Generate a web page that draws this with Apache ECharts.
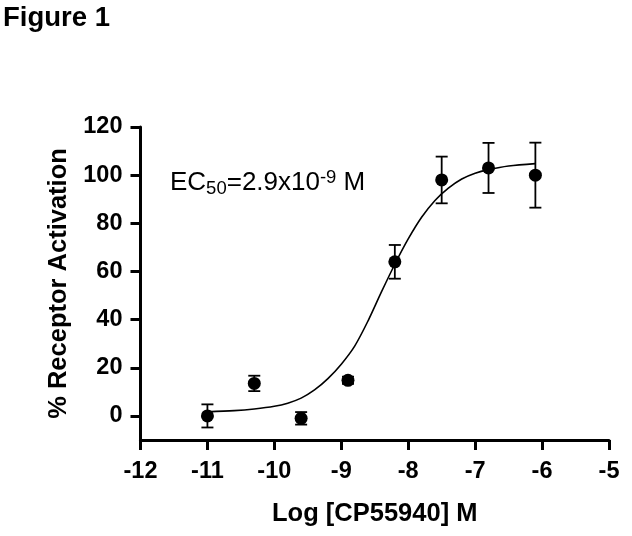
<!DOCTYPE html>
<html lang="en">
<head>
    <meta charset="UTF-8">
    <title>Figure 1</title>
    <script src="https://cdn.jsdelivr.net/npm/echarts@6/dist/echarts.min.js"></script>
    <style>
        html, body { margin: 0; padding: 0; background: #fff; }
    </style>
</head>
<body>
<div id="main" style="width: 632px;height:536px;"></div>
<script type="text/javascript">
    // measured points: log concentration, mean, SEM
    var logConc = [-11, -10.3, -9.6, -8.9, -8.2, -7.5, -6.8, -6.1];
    var activation = [0, 13.5, -1.0, 14.8, 64, 98, 103, 100];
    var sem = [4.8, 3.2, 2.6, 1.5, 7, 9.7, 10.4, 13.5];

    // fitted curve
    var curveX = [-11, -10.6, -10.3, -10, -9.8, -9.6, -9.4, -9.2, -9.0, -8.8, -8.6, -8.4, -8.2, -8.0, -7.8, -7.6, -7.4, -7.2, -7.0, -6.8, -6.5, -6.1];
    var curveY = [1.7, 2.2, 2.9, 4.0, 5.3, 7.4, 10.8, 15.5, 21.5, 29, 39.5, 51.5, 63, 73.5, 82.5, 89.5, 94.6, 98.4, 100.8, 102.3, 103.8, 104.8];

    var xTicks = [-12, -11, -10, -9, -8, -7, -6, -5];
    var yTicks = [0, 20, 40, 60, 80, 100, 120];

    var font = 'Liberation Sans, Arial, sans-serif';
    var myChart = echarts.init(document.getElementById('main'));

    var pointData = logConc.map(function (x, i) { return [x, activation[i]]; });
    var errData = logConc.map(function (x, i) { return [x, activation[i], sem[i]]; });
    var curveData = curveX.map(function (x, i) { return [x, curveY[i]]; });

    var axisCommon = {
        splitLine: { show: false },
        axisLine: { show: true, onZero: false, lineStyle: { color: '#000', width: 3 } },
        axisTick: { show: true, length: 10, lineStyle: { color: '#000', width: 3 } },
        axisLabel: { color: '#000', fontWeight: 'bold', fontSize: 23.5, fontFamily: font },
        nameTextStyle: { color: '#000', fontWeight: 'bold', fontSize: 25.5, fontFamily: font }
    };

    myChart.setOption({
        backgroundColor: '#fff',
        animation: false,
        title: {
            text: 'Figure 1',
            left: -2,
            top: -1,
            textStyle: { color: '#000', fontWeight: 'bold', fontSize: 27.5, fontFamily: font }
        },
        grid: { left: 140.5, right: 23, top: 127, bottom: 96 },
        xAxis: echarts.util.merge({
            type: 'value',
            min: -12,
            max: -5,
            interval: 1,
            name: 'Log [CP55940] M',
            nameLocation: 'middle',
            nameGap: 61,
            axisTick: { customValues: xTicks },
            axisLabel: { customValues: xTicks, margin: 20 }
        }, axisCommon),
        yAxis: echarts.util.merge({
            type: 'value',
            min: -10,
            max: 120,
            name: '% Receptor Activation',
            nameLocation: 'middle',
            nameGap: 66,
            axisTick: { customValues: yTicks },
            axisLabel: { customValues: yTicks, margin: 18 }
        }, axisCommon),
        graphic: [{
            type: 'text',
            left: 170,
            top: 168,
            style: {
                text: '{a|EC}{b|50}{a|=2.9x10}{c|-9}{a| M}',
                fill: '#000',
                rich: {
                    a: { fontSize: 26, fontFamily: font, lineHeight: 30, verticalAlign: 'middle' },
                    b: { fontSize: 18.5, fontFamily: font, lineHeight: 18, verticalAlign: 'bottom' },
                    c: { fontSize: 18.5, fontFamily: font, lineHeight: 16, verticalAlign: 'top' }
                }
            }
        }],
        series: [
            {
                name: 'fit',
                type: 'line',
                data: curveData,
                smooth: 0.3,
                showSymbol: false,
                lineStyle: { color: '#000', width: 1.6 },
                z: 2
            },
            {
                name: 'error',
                type: 'custom',
                data: errData,
                renderItem: function (params, api) {
                    var x = api.value(0), m = api.value(1), e = api.value(2);
                    var top = api.coord([x, m + e]);
                    var bot = api.coord([x, m - e]);
                    var hw = 6;
                    var st = { stroke: '#000', lineWidth: 1.8 };
                    return {
                        type: 'group',
                        children: [
                            { type: 'line', shape: { x1: top[0], y1: top[1], x2: bot[0], y2: bot[1] }, style: st },
                            { type: 'line', shape: { x1: top[0] - hw, y1: top[1], x2: top[0] + hw, y2: top[1] }, style: st },
                            { type: 'line', shape: { x1: bot[0] - hw, y1: bot[1], x2: bot[0] + hw, y2: bot[1] }, style: st }
                        ]
                    };
                },
                z: 3
            },
            {
                name: 'data',
                type: 'scatter',
                data: pointData,
                symbol: 'circle',
                symbolSize: 13,
                itemStyle: { color: '#000', opacity: 1 },
                z: 4
            }
        ]
    });
</script>
</body>
</html>
